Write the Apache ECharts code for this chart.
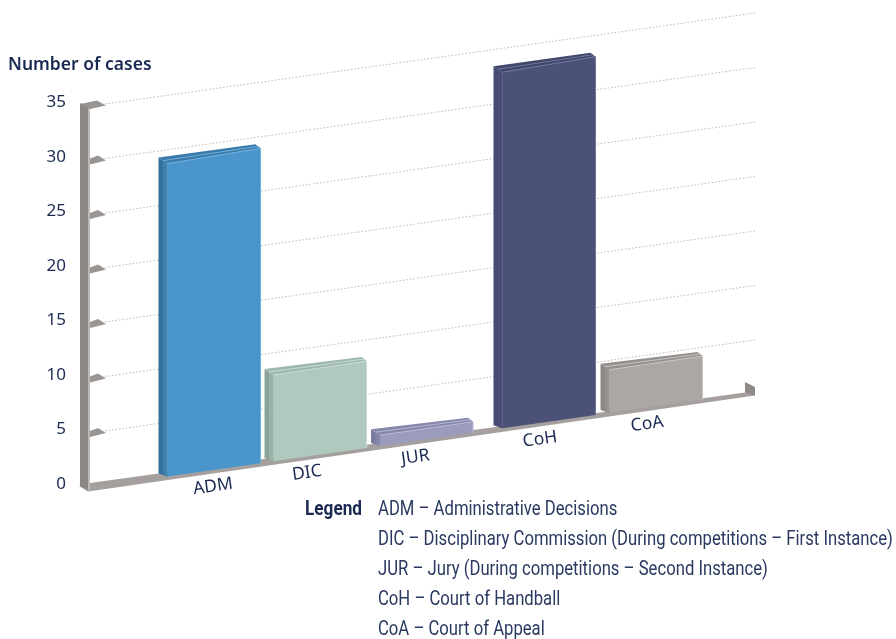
<!DOCTYPE html>
<html><head><meta charset="utf-8">
<style>html,body{margin:0;padding:0;background:#fff}#c{width:896px;height:639px}</style>
<script src="https://cdn.jsdelivr.net/npm/echarts@6/dist/echarts.min.js"></script>
</head><body><div id="c"></div>
<script>
const categories = ['ADM','DIC','JUR','CoH','CoA'];
const caseCounts = [29,8,1,33,4];
const yTicks = [0,5,10,15,20,25,30,35];
const legendLines = [
  'ADM – Administrative Decisions',
  'DIC – Disciplinary Commission (During competitions – First Instance)',
  'JUR – Jury (During competitions – Second Instance)',
  'CoH – Court of Handball',
  'CoA – Court of Appeal'
];
const barNudge = [-1,-5,-8.5,4,1];
const labelNudge = [-1,-13,-11,-9,-9];
const palette = [
  {front:'#4A96CC',side:'#33709A',mid:'#3F82AE',top:'#3A7BAA',hl:'#6FB0DE'},
  {front:'#B0C9BF',side:'#8AA39A',mid:'#98B2A8',top:'#9DB8AE',hl:'#C8DBD3'},
  {front:'#9A9BBD',side:'#7A7B9E',mid:'#8586AA',top:'#8687AB',hl:'#B6B7D2'},
  {front:'#4B5177',side:'#454B72',mid:'#484E75',top:'#41476A',hl:'#6F759B'},
  {front:'#ABA7A5',side:'#8C8885',mid:'#96928F',top:'#96918E',hl:'#C8C4C1'}
];
const INK='#1B2A52', K_FLOOR=0.144, K_GRID=0.14;
const floorY=(y0,x)=>y0+4-K_FLOOR*(x-88);
const poly=(points,fill)=>({type:'polygon',shape:{points},style:{fill}});
const line=(a,b,stroke,w,dash)=>({type:'line',shape:{x1:a[0],y1:a[1],x2:b[0],y2:b[1]},style:{stroke,lineWidth:w||1,lineDash:dash||null}});

function renderFrame(params,api){
  const v=api.value(1), y=api.coord([0,v])[1]+1.5;
  const kids=[];
  if(v===0){
    kids.push(poly([[90,483],[745,392.5],[755,387.5],[755,395.5],[88,491.5],[79,486]],'#A5A09D'));
    kids.push(poly([[745,382],[755,387],[755,395.5],[745,392.5]],'#8E8986'));
    kids.push(poly([[80,103],[90,108],[90,491],[80,486]],'#8C8785'));
    kids.push(poly([[88,107],[90,108],[90,491],[88,490]],'#BDB9B7'));
  } else {
    kids.push(line([105,y],[755,y-K_GRID*650],'#B9B9B9',1,[1.5,2]));
    if(v===35){
      kids.push(poly([[80,y],[97,y-3.5],[106,y+1.5],[90,y+5]],'#9A9592'));
    } else {
      kids.push(poly([[90,y],[98,y-3],[106,y+2],[90,y+6]],'#9A9592'));
    }
  }
  return {type:'group',children:kids};
}
function renderBars(params,api){
  const i=api.value(0), v=api.value(1), c=palette[i];
  const y0=api.coord([i,0])[1], cx=api.coord([i,v])[0]+barNudge[i];
  const xi=cx-46.5, xr=cx+46.5, xo=xi-9, xm=xi-4.5;
  const h=(y0-api.coord([i,v])[1])*0.99;
  const k=K_FLOOR+0.02*v/29;
  const bl=floorY(y0,xi), br=floorY(y0,xr), tl=bl-h, tr=tl-k*93;
  const lx=cx+labelNudge[i];
  return {type:'group',children:[
    poly([[xo,tl-6],[xi,tl],[xi,bl],[xo,bl-3]],c.side),
    poly([[xm,tl-3],[xi,tl],[xi,bl],[xm,bl-1.5]],c.mid),
    poly([[xo,tl-6],[xr-5,tr-4],[xr,tr],[xi,tl]],c.top),
    line([xm,tl-3],[xr-2.5,tr-2],c.hl,1),
    poly([[xi,tl],[xr,tr],[xr,br],[xi,bl]],c.front),
    line([xi,tl],[xr,tr],c.hl,1),
    line([xr,tr],[xr,br],c.hl,1),
    {type:'text',x:lx,y:floorY(y0,lx)+16.5,rotation:0.14,
     style:{text:categories[i],fill:INK,font:'17.5px "Noto Sans"',align:'center',verticalAlign:'middle'}}
  ]};
}
const chart=echarts.init(document.getElementById('c'),null,{renderer:'canvas'});
chart.setOption({
  animation:false,
  backgroundColor:'#fff',
  title:{text:'Number of cases',left:8,top:55,padding:0,textStyle:{color:INK,fontSize:17.5,fontWeight:600,fontFamily:'Noto Sans',lineHeight:20}},
  grid:{left:160,top:102.5,width:550,height:381.5,containLabel:false},
  xAxis:{type:'category',data:categories,show:false},
  yAxis:{type:'value',min:0,max:35,interval:5,
    axisLine:{show:false},axisTick:{show:false},splitLine:{show:false},
    axisLabel:{margin:94,color:INK,fontSize:17,fontFamily:'Noto Sans',align:'right'}},
  series:[
    {type:'custom',name:'axes',coordinateSystem:'cartesian2d',renderItem:renderFrame,clip:false,z:1,silent:true,
      encode:{x:0,y:1},data:yTicks.map(t=>[0,t])},
    {type:'custom',name:'Number of cases',coordinateSystem:'cartesian2d',renderItem:renderBars,clip:false,z:2,
      encode:{x:0,y:1},data:caseCounts.map((v,i)=>[i,v])}
  ],
  graphic:[
    {type:'text',x:305,y:510,scaleX:0.86,style:{text:'Legend',fill:INK,font:'bold 20px Roboto',verticalAlign:'middle'}}
  ].concat(legendLines.map((t,i)=>({type:'text',x:378,y:510+i*30.1,scaleX:0.834,
    style:{text:t,fill:'#2A3960',font:'20px Roboto',verticalAlign:'middle'}})))
});
</script></body></html>
